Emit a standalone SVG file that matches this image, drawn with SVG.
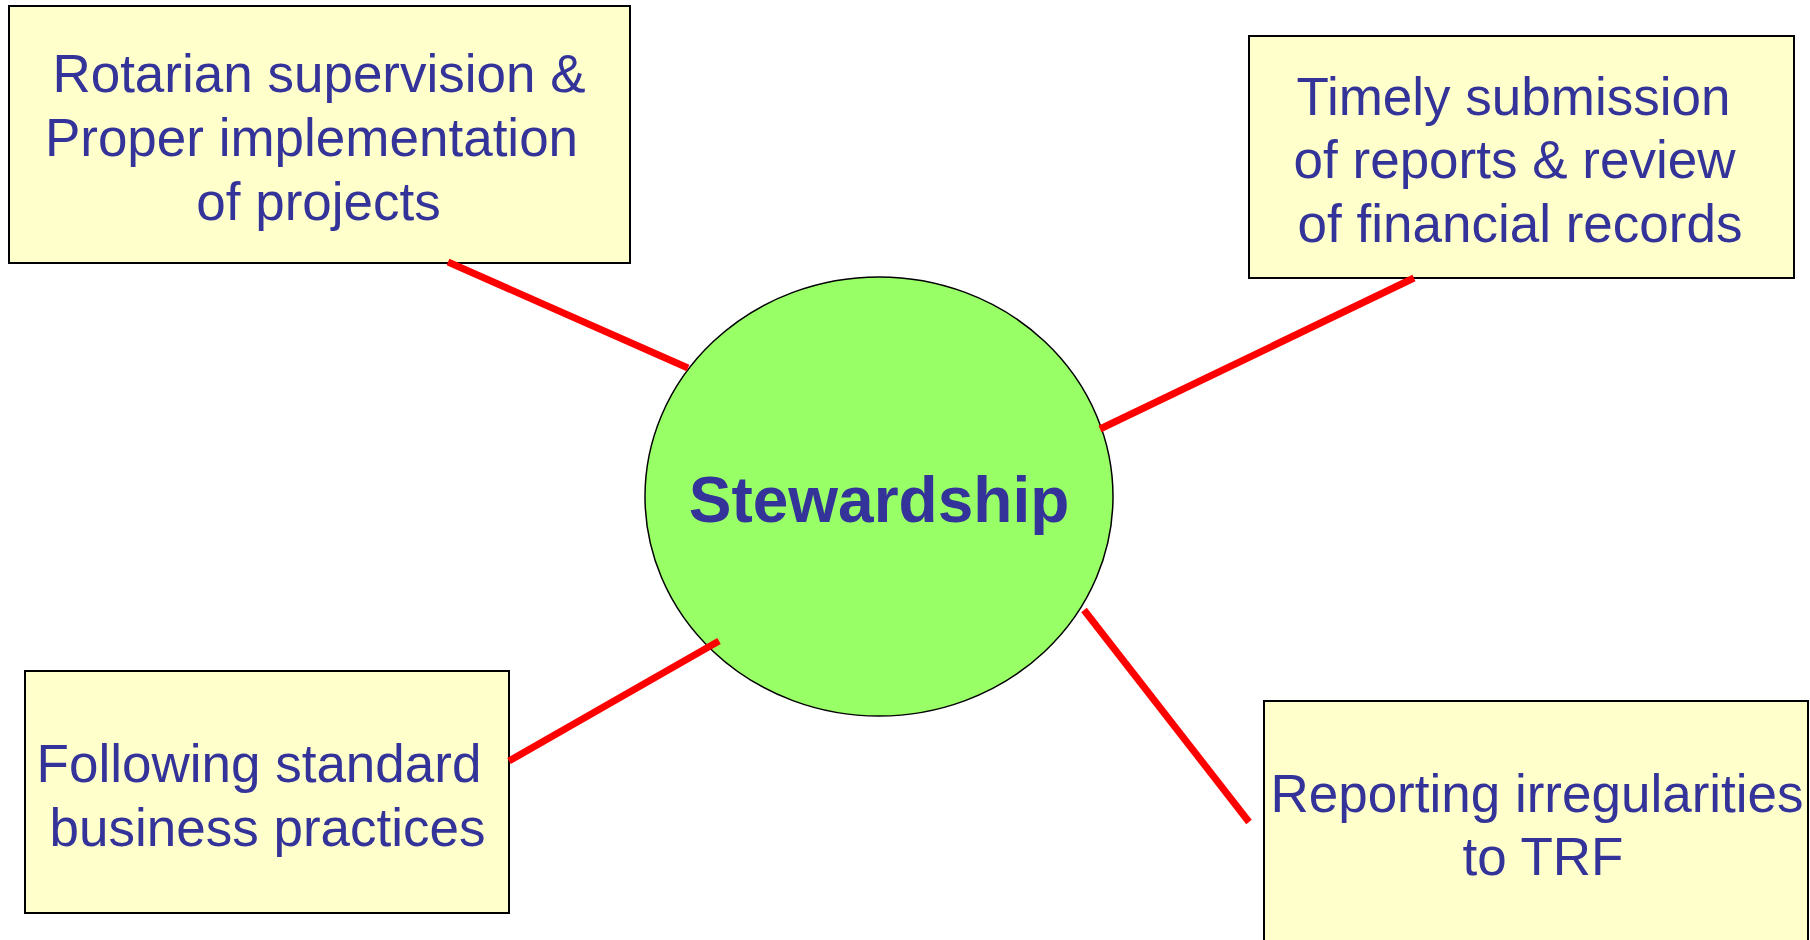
<svg xmlns="http://www.w3.org/2000/svg" width="1810" height="940" viewBox="0 0 1810 940">
<style>
.box{fill:#FFFFCC;stroke:#000;stroke-width:2}
.t{font-family:"Liberation Sans",Arial,sans-serif;font-size:53px;fill:#333399;text-anchor:middle}
.c{font-family:"Liberation Sans",Arial,sans-serif;font-size:64px;font-weight:bold;fill:#333399;text-anchor:middle}
.con{stroke:#FF0000;stroke-width:7;fill:none}
</style>
<rect width="1810" height="940" fill="#fff"/>
<g id="node-rotarian">
<rect class="box" x="9" y="6" width="621" height="257"/>
<text class="t" x="319" y="92">Rotarian supervision &amp;</text>
<text class="t" x="311.5" y="156">Proper implementation</text>
<text class="t" x="318.5" y="220">of projects</text>
</g>
<g id="node-timely">
<rect class="box" x="1249" y="36" width="545" height="242"/>
<text class="t" x="1513.5" y="115">Timely submission</text>
<text class="t" x="1514.5" y="178">of reports &amp; review</text>
<text class="t" x="1520" y="242">of financial records</text>
</g>
<g id="node-following">
<rect class="box" x="25" y="671" width="484" height="242"/>
<text class="t" x="259" y="782">Following standard</text>
<text class="t" x="267.5" y="846">business practices</text>
</g>
<g id="node-reporting">
<rect class="box" x="1264" y="701" width="544" height="260"/>
<text class="t" x="1537" y="812">Reporting irregularities</text>
<text class="t" x="1543" y="875">to TRF</text>
</g>
<g id="node-stewardship">
<ellipse cx="879" cy="496.5" rx="234" ry="219.5" fill="#99FF66" stroke="#000" stroke-width="1.5"/>
<text class="c" x="879" y="522">Stewardship</text>
</g>
<g id="connectors">
<line class="con" x1="448" y1="262" x2="688" y2="368"/>
<line class="con" x1="1414" y1="278" x2="1100" y2="429"/>
<line class="con" x1="719" y1="641" x2="509" y2="761"/>
<line class="con" x1="1084" y1="610" x2="1249" y2="822"/>
</g>
</svg>
